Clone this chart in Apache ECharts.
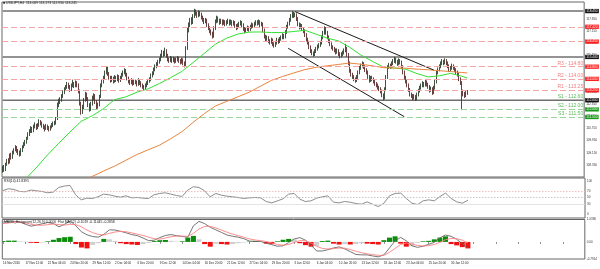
<!DOCTYPE html>
<html><head><meta charset="utf-8">
<script src="https://cdn.jsdelivr.net/npm/echarts@6/dist/echarts.min.js"></script>
<style>html,body{margin:0;padding:0;background:#fff}#c{width:600px;height:269px}</style>
</head><body><div id="c"></div>
<script>
const slotCount = 416;
const tickLabels = ["14 Nov 2016","17 Nov 12:00","22 Nov 04:00","24 Nov 20:00","29 Nov 12:00","2 Dec 04:00","6 Dec 20:00","9 Dec 12:00","14 Dec 04:00","16 Dec 20:00","21 Dec 12:00","27 Dec 04:00","29 Dec 20:00","3 Jan 12:00","6 Jan 04:00","10 Jan 20:00","13 Jan 12:00","18 Jan 12:00","23 Jan 04:00","25 Jan 20:00","30 Jan 12:00"];
const firstOpen = 108.00;
const closes = [
108.15,108.05,108.40,108.60,108.55,109.00,108.85,109.20,109.35,109.50,
109.30,109.20,109.05,109.30,109.55,109.70,109.85,110.10,110.35,110.55,
110.75,110.60,110.85,110.95,110.80,110.95,111.15,111.10,110.95,110.85,
110.75,110.90,110.80,110.70,110.85,110.95,111.05,111.10,111.35,112.30,
112.45,112.60,112.85,113.10,113.30,113.45,113.60,113.50,113.30,113.55,
113.70,113.55,113.75,113.60,113.20,112.40,111.85,112.10,112.60,113.00,
112.70,112.30,112.00,112.35,112.75,112.90,112.50,112.15,112.30,112.80,
113.55,113.80,114.05,114.40,114.70,114.35,114.10,113.90,114.05,113.85,
114.10,113.95,114.15,113.90,114.05,114.25,114.40,114.55,114.30,114.05,
113.85,113.75,113.90,113.70,113.85,113.80,113.65,113.90,113.75,113.60,
113.50,113.40,113.55,113.70,113.85,113.95,114.20,114.35,114.60,114.80,
114.95,115.10,115.25,115.50,115.75,115.60,115.85,115.55,115.30,115.20,
115.35,115.20,115.30,115.15,115.25,115.35,115.20,115.10,115.25,115.05,
114.90,116.00,117.20,117.50,117.85,117.70,118.10,118.45,118.30,118.15,
118.35,118.25,118.05,117.90,117.75,117.85,117.55,117.35,117.15,117.00,
116.80,117.30,117.75,118.00,117.85,117.70,117.80,117.65,117.75,117.60,
117.70,117.80,117.65,117.75,117.60,117.70,117.50,117.35,117.50,117.60,
117.70,117.55,117.30,117.15,117.25,117.35,117.25,117.40,117.55,117.50,
117.60,117.70,117.65,117.75,117.55,117.60,117.20,116.80,116.60,116.70,
116.50,116.40,116.55,116.30,116.20,116.35,116.55,116.45,116.60,116.70,
116.85,116.75,117.05,117.40,117.60,117.85,118.10,118.30,118.15,118.20,
117.95,117.60,117.40,117.50,117.30,117.15,116.90,116.60,116.40,116.10,
115.85,115.70,115.60,115.80,115.95,116.10,116.20,116.35,116.70,117.00,
117.30,117.05,116.75,116.50,116.30,116.10,116.00,115.90,115.75,115.85,
115.65,115.50,115.60,115.70,115.85,116.00,115.60,115.05,114.55,114.30,
114.15,114.00,113.90,114.10,114.40,114.70,114.85,115.00,114.80,114.60,
114.45,114.15,113.90,114.05,114.00,113.85,113.70,113.60,113.45,113.35,
113.20,112.95,112.75,113.30,114.10,114.75,114.90,114.80,115.00,115.15,
115.30,115.15,115.00,115.20,115.10,114.80,114.45,114.10,113.85,113.60,
113.30,113.00,112.90,112.75,112.85,112.70,112.95,113.20,113.40,113.55,
113.70,113.60,113.80,113.65,113.50,113.25,113.35,113.10,113.40,113.80,
114.40,114.60,114.80,115.00,115.15,115.05,115.20,115.05,114.85,114.60,
114.70,114.85,114.75,114.60,114.45,114.30,114.00,113.75,113.10,113.05,
112.90,113.07,113.24];
const highs = [
108.30,108.35,108.50,108.75,108.80,109.10,109.15,109.30,109.45,109.65,
109.60,109.40,109.30,109.45,109.65,109.85,110.00,110.20,110.50,110.70,
110.90,110.85,111.00,111.15,111.05,111.10,111.35,111.30,111.20,111.05,
110.95,111.05,111.00,110.90,110.95,111.10,111.20,111.25,111.50,112.45,
112.70,112.80,113.00,113.25,113.45,113.60,113.80,113.75,113.60,113.70,
113.95,113.80,113.90,113.85,113.70,113.30,112.50,112.30,112.75,113.15,
113.10,112.80,112.40,112.50,112.90,113.05,113.00,112.60,112.45,112.95,
113.70,113.95,114.20,114.55,114.85,114.80,114.45,114.20,114.20,114.15,
114.25,114.20,114.30,114.25,114.20,114.40,114.55,114.70,114.65,114.40,
114.15,113.95,114.05,114.00,114.00,113.95,113.90,114.05,114.00,113.85,
113.70,113.60,113.70,113.85,114.00,114.10,114.35,114.50,114.75,114.95,
115.10,115.25,115.40,115.65,115.90,115.85,116.05,115.95,115.65,115.40,
115.50,115.45,115.45,115.40,115.40,115.50,115.45,115.30,115.40,115.35,
115.15,116.15,117.35,117.70,118.00,118.05,118.25,118.60,118.55,118.40,
118.50,118.45,118.35,118.15,118.00,118.00,117.95,117.65,117.45,117.25,
117.10,117.45,117.90,118.15,118.10,117.95,117.95,117.90,117.90,117.85,
117.85,117.95,117.90,117.90,117.85,117.85,117.80,117.60,117.65,117.75,
117.85,117.80,117.65,117.40,117.40,117.50,117.45,117.55,117.70,117.65,
117.75,117.85,117.85,117.90,117.85,117.75,117.70,117.30,116.90,116.85,
116.80,116.60,116.70,116.65,116.40,116.50,116.70,116.65,116.75,116.85,
117.00,116.95,117.20,117.55,117.75,118.00,118.25,118.45,118.40,118.35,
118.30,118.05,117.70,117.65,117.60,117.40,117.25,117.00,116.70,116.50,
116.20,115.95,115.80,115.95,116.10,116.25,116.35,116.50,116.85,117.15,
117.45,117.40,117.15,116.85,116.60,116.40,116.20,116.10,116.00,116.00,
115.95,115.75,115.75,115.85,116.00,116.30,116.10,115.70,115.15,114.65,
114.40,114.25,114.10,114.25,114.55,114.85,115.00,115.15,115.10,114.90,
114.70,114.55,114.25,114.20,114.20,114.10,113.95,113.80,113.70,113.55,
113.45,113.30,113.05,113.45,114.25,114.90,115.05,115.00,115.15,115.30,
115.45,115.40,115.25,115.35,115.30,115.20,114.90,114.55,114.20,113.95,
113.70,113.40,113.10,113.00,113.00,112.95,113.10,113.35,113.55,113.70,
113.85,113.80,113.95,113.90,113.75,113.60,113.50,113.45,113.55,113.95,
114.55,114.75,114.95,115.15,115.30,115.25,115.35,115.30,115.15,114.95,
114.85,115.00,114.95,114.85,114.70,114.55,114.40,114.10,113.85,113.30,
113.15,113.20,113.27];
const lows = [
107.85,107.90,107.95,108.30,108.40,108.45,108.70,108.75,109.05,109.25,
109.15,109.00,108.90,108.95,109.20,109.45,109.60,109.75,110.00,110.25,
110.45,110.45,110.50,110.75,110.65,110.70,110.85,110.95,110.80,110.70,
110.55,110.65,110.65,110.55,110.60,110.75,110.85,110.95,111.00,111.30,
112.15,112.35,112.50,112.75,113.00,113.20,113.35,113.35,113.15,113.20,
113.45,113.40,113.45,113.45,113.05,112.25,111.65,111.70,112.00,112.50,
112.55,112.15,111.85,111.90,112.25,112.60,112.35,112.00,112.05,112.20,
112.75,113.45,113.70,113.95,114.30,114.20,113.95,113.75,113.80,113.70,
113.75,113.80,113.85,113.75,113.80,113.95,114.15,114.30,114.15,113.90,
113.70,113.60,113.65,113.55,113.60,113.65,113.50,113.55,113.60,113.45,
113.35,113.25,113.30,113.45,113.60,113.75,113.85,114.10,114.25,114.50,
114.70,114.85,115.00,115.15,115.40,115.45,115.50,115.40,115.15,115.05,
115.10,115.05,115.10,115.00,115.05,115.15,115.05,114.95,115.00,114.90,
114.75,114.85,115.90,117.05,117.40,117.55,117.60,118.00,118.15,118.00,
118.05,118.10,117.90,117.75,117.60,117.65,117.40,117.20,117.00,116.85,
116.65,116.70,117.20,117.65,117.70,117.55,117.60,117.50,117.55,117.45,
117.50,117.60,117.50,117.55,117.45,117.50,117.35,117.20,117.25,117.40,
117.50,117.40,117.15,117.00,117.05,117.15,117.10,117.15,117.30,117.35,
117.40,117.50,117.50,117.55,117.40,117.45,117.05,116.65,116.45,116.50,
116.35,116.25,116.30,116.15,116.05,116.10,116.25,116.30,116.35,116.50,
116.60,116.60,116.65,116.95,117.30,117.50,117.75,118.00,118.00,118.05,
117.80,117.45,117.25,117.30,117.15,117.00,116.75,116.45,116.25,115.95,
115.70,115.55,115.45,115.50,115.70,115.85,116.00,116.10,116.25,116.60,
116.90,116.90,116.60,116.35,116.15,115.95,115.85,115.75,115.60,115.65,
115.50,115.35,115.40,115.50,115.60,115.75,115.45,114.90,114.40,114.15,
114.00,113.85,113.75,113.80,114.00,114.30,114.60,114.75,114.65,114.45,
114.30,114.00,113.75,113.80,113.85,113.70,113.55,113.45,113.30,113.20,
113.05,112.80,112.60,112.65,113.20,114.00,114.65,114.65,114.70,114.90,
115.05,115.00,114.85,114.90,114.95,114.65,114.30,113.95,113.70,113.45,
113.15,112.85,112.75,112.60,112.65,112.55,112.60,112.85,113.10,113.30,
113.45,113.45,113.50,113.50,113.35,113.10,113.15,112.95,113.00,113.30,
113.70,114.30,114.50,114.70,114.90,114.90,114.95,114.90,114.70,114.45,
114.50,114.60,114.60,114.45,114.30,114.15,113.85,113.60,111.95,112.85,
112.75,112.80,112.95];
const maFast = [[16,107.40],[24,108.17],[32,109.01],[40,109.77],[48,110.51],[56,111.21],[64,111.58],[72,112.04],[80,112.64],[88,112.82],[96,113.13],[104,113.35],[112,113.70],[120,114.08],[128,114.49],[136,115.07],[144,115.67],[152,116.28],[160,116.67],[168,116.94],[176,117.07],[184,117.08],[192,117.04],[200,117.04],[208,117.11],[216,117.19],[224,116.93],[232,116.67],[240,116.49],[248,116.07],[256,115.56],[264,115.16],[272,114.78],[280,114.71],[288,114.64],[296,114.35],[304,114.13],[312,114.20],[320,114.36],[328,114.18],[332,114.05]];
const maSlow = [[60,107.42],[64,107.60],[72,107.95],[80,108.28],[88,108.66],[96,109.04],[104,109.35],[112,109.65],[120,110.07],[128,110.53],[136,111.14],[144,111.72],[152,112.22],[160,112.52],[168,112.82],[176,113.12],[184,113.51],[192,113.90],[200,114.16],[208,114.39],[216,114.61],[224,114.76],[232,114.86],[240,114.95],[248,115.04],[256,114.96],[264,114.86],[272,114.74],[280,114.71],[288,114.70],[296,114.64],[304,114.60],[312,114.54],[320,114.48],[328,114.42],[332,114.39]];
const sampleStep = 4;
const rsiVals = [70,76,74,68,67,72,70,68,64,66,80,84,86,58,43,48,47,52,60,58,54,51,55,49,50,48,47,58,62,64,60,56,53,72,82,80,70,52,62,57,54,52,50,47,49,50,49,38,34,40,46,60,62,45,38,40,48,52,55,36,34,38,36,32,30,37,30,23,33,55,62,63,47,33,29,40,43,40,53,63,47,37,33,42];
const macdVals = [0.92,0.96,0.95,0.92,0.82,0.73,0.78,0.84,0.90,0.85,0.70,0.82,0.97,0.75,0.47,0.33,0.25,0.22,0.35,0.56,0.55,0.49,0.42,0.34,0.29,0.18,0.06,0.08,0.20,0.30,0.34,0.29,0.25,0.22,0.75,0.95,0.85,0.68,0.56,0.44,0.32,0.26,0.22,0.15,0.04,0.02,0.02,-0.06,-0.13,-0.20,-0.18,-0.03,0.14,0.20,0.08,-0.15,-0.42,-0.42,-0.36,-0.28,-0.23,-0.32,-0.45,-0.58,-0.60,-0.60,-0.65,-0.69,-0.60,-0.28,0.05,0.21,0.05,-0.18,-0.25,-0.20,-0.11,-0.02,0.19,0.32,0.26,0.12,-0.08,-0.27];
const signalVals = [0.85,0.88,0.91,0.92,0.88,0.82,0.78,0.77,0.80,0.83,0.80,0.78,0.82,0.80,0.70,0.55,0.43,0.35,0.32,0.40,0.46,0.49,0.47,0.42,0.36,0.30,0.22,0.15,0.13,0.18,0.24,0.27,0.27,0.26,0.40,0.60,0.72,0.72,0.65,0.55,0.45,0.36,0.29,0.22,0.14,0.09,0.06,0.02,-0.05,-0.12,-0.15,-0.12,-0.02,0.06,0.06,-0.05,-0.20,-0.30,-0.33,-0.31,-0.28,-0.29,-0.35,-0.43,-0.50,-0.55,-0.59,-0.62,-0.62,-0.48,-0.30,-0.12,-0.05,-0.10,-0.16,-0.19,-0.17,-0.12,-0.02,0.10,0.16,0.15,0.08,-0.05];
const histVals = [0.04,0.06,0.06,0.03,0.02,-0.04,-0.05,-0.03,0.03,0.10,0.18,0.22,0.24,-0.10,-0.26,-0.30,-0.14,-0.06,0.14,0.12,0.05,-0.06,-0.10,-0.12,-0.14,-0.10,-0.05,0.04,0.08,0.09,0.05,0.02,0.03,0.20,0.28,0.12,-0.10,-0.22,-0.08,-0.10,-0.12,-0.10,-0.06,-0.03,0.02,0.05,0.03,-0.08,-0.10,0.03,0.10,0.14,0.12,-0.06,-0.15,-0.22,-0.18,0.04,0.06,-0.08,-0.12,-0.10,-0.12,-0.10,-0.06,-0.08,-0.10,-0.12,0.08,0.20,0.26,-0.08,-0.22,-0.18,-0.04,0.03,0.05,0.12,0.20,0.26,-0.10,-0.16,-0.24,-0.30];
const resistLevels = [114.80, 114.00, 113.25];
const resistNames = ["R3", "R2", "R1"];
const supportLevels = [112.60, 112.00, 111.50];
const supportNames = ["S1", "S2", "S3"];
const extraRedLevels = [117.42, 116.45];
const solidLevels = [118.45, 115.44, 112.60];
const channelUpper = [[209, 118.41], [308, 114.58]];
const channelLower = [[204, 116.01], [287, 111.52]];
const priceTicks = [108.35,109.15,109.95,110.75,111.55,112.35,113.15,113.95,114.75,115.55,116.35,117.15,117.95];
const rsiTicks = [0, 30, 50, 70, 100];
const macdTicks = [-0.7914, 0, 1.0396];
const titleText = "\u25A0 USDJPY,H4  113.069 113.273 112.950 113.241";
const rsiText = "RSI(14) 41.8395";
const macdText = "MACD_Histogram(12,26,9) 0.0000  Flat MA(12) -0.1019 -0.11445 -0.2858";

const slots = Array.from({length: slotCount}, (_, i) => String(i));
const ohlc = closes.map((c, i) => [i === 0 ? firstOpen : closes[i - 1], c, lows[i], highs[i]]);
const sampled = arr => arr.map((v, k) => [k * sampleStep, v]);
const histData = histVals.map((v, k) => {
  const prev = k > 0 ? histVals[k - 1] : 0;
  let col;
  if (v >= 0) col = v >= prev ? '#0c8c0c' : '#cfcfcf';
  else col = v <= prev ? '#f01010' : '#cfcfcf';
  return {value: [k * sampleStep, v], itemStyle: {color: col}};
});

const F = 'Liberation Sans, Arial, sans-serif';
function lineItem(v, color, type, width, text, textColor) {
  return {yAxis: v, lineStyle: {color: color, type: type, width: width},
    label: text ? {show: true, position: 'insideEndTop', formatter: text, color: textColor, fontSize: 5, fontFamily: F, distance: [1, 0.8]} : {show: false}};
}
function boxItem(v, bg) {
  return {yAxis: v, lineStyle: {color: 'rgba(0,0,0,0)', width: 0.1},
    label: {show: true, position: 'end', formatter: v.toFixed(3), backgroundColor: bg, color: '#fff', fontSize: 3.2, fontFamily: F, padding: [0.8, 1.2, 0.5, 1.2], distance: 1}};
}
const ml = [];
extraRedLevels.forEach(v => { ml.push(lineItem(v, '#f6a5a5', [6, 3], 1, null)); ml.push(boxItem(v, '#ff1f1f')); });
solidLevels.forEach(v => { ml.push(boxItem(v, '#111')); });
resistLevels.forEach((v, k) => { ml.push(lineItem(v, '#f6a5a5', [6, 3], 1, resistNames[k] + ' - ' + v.toFixed(2), '#f08080')); ml.push(boxItem(v, '#ff1f1f')); });
supportLevels.forEach((v, k) => {
  if (k === 0) { ml.push(lineItem(v, 'rgba(0,0,0,0)', 'solid', 0.1, supportNames[k] + ' - ' + v.toFixed(2), '#5cb85c')); }
  else { ml.push(lineItem(v, '#9ad69a', [6, 3], 1, supportNames[k] + ' - ' + v.toFixed(2), '#5cb85c')); ml.push(boxItem(v, '#1a9a1a')); }
});
const solidSeries = solidLevels.map(v => ({type: 'line', xAxisIndex: 0, yAxisIndex: 0, silent: true, showSymbol: false, z: 1,
  data: [[0, v], [slotCount - 1, v]], lineStyle: {color: '#6f6f6f', width: 1.4}}));

const axisCommon = {type: 'category', data: slots, boundaryGap: true, axisLine: {show: false}, axisTick: {show: false}, axisLabel: {show: false}, splitLine: {show: false}};
const yLab = {fontSize: 3, color: '#333', fontFamily: F, margin: 2};
const trend = d => ({type: 'line', xAxisIndex: 0, yAxisIndex: 0, data: d, showSymbol: false, silent: true, lineStyle: {color: '#1a1a1a', width: 1}, z: 4});
const chart = echarts.init(document.getElementById('c'), null, {renderer: 'canvas'});
chart.setOption({
  animation: false,
  backgroundColor: '#fff',
  title: [
    {text: titleText, left: 3, top: 1.5, padding: 0, textStyle: {fontSize: 3.4, color: '#222', fontWeight: 'normal', fontFamily: F}},
    {text: rsiText, left: 4, top: 180, padding: 0, textStyle: {fontSize: 3.4, color: '#222', fontWeight: 'normal', fontFamily: F}},
    {text: macdText, left: 4, top: 220.5, padding: 0, textStyle: {fontSize: 3.4, color: '#222', fontWeight: 'normal', fontFamily: F}}
  ],
  grid: [
    {left: 2, right: 15, top: 2, height: 175, show: true, borderColor: '#666', borderWidth: 1},
    {left: 2, right: 15, top: 178, height: 40, show: true, borderColor: '#666', borderWidth: 1},
    {left: 2, right: 15, top: 219.5, height: 39.5, show: true, borderColor: '#666', borderWidth: 1}
  ],
  xAxis: [
    Object.assign({gridIndex: 0}, axisCommon),
    Object.assign({gridIndex: 1}, axisCommon),
    Object.assign({}, axisCommon, {gridIndex: 2,
      axisTick: {show: true, interval: 15, length: 2, alignWithLabel: true, lineStyle: {color: '#444', width: 0.6}},
      axisLabel: {show: true, interval: 15, formatter: (val, idx) => tickLabels[idx / 16] || '', align: 'left', fontSize: 3, color: '#222', fontFamily: F, margin: 3}})
  ],
  yAxis: [
    {gridIndex: 0, type: 'value', position: 'right', min: 107.563, max: 119.045, splitLine: {show: false}, axisLine: {show: false}, axisTick: {show: false},
      axisLabel: Object.assign({customValues: priceTicks, formatter: v => v.toFixed(3)}, yLab)},
    {gridIndex: 1, type: 'value', position: 'right', min: -11, max: 108, splitLine: {show: false}, axisLine: {show: false}, axisTick: {show: false},
      axisLabel: Object.assign({customValues: rsiTicks, formatter: v => String(v)}, yLab)},
    {gridIndex: 2, type: 'value', position: 'right', min: -0.7914, max: 1.0396, splitLine: {show: false}, axisLine: {show: false}, axisTick: {show: false},
      axisLabel: Object.assign({customValues: macdTicks, formatter: v => v === 0 ? '0.00' : v.toFixed(4)}, yLab)}
  ],
  series: [
    {type: 'candlestick', xAxisIndex: 0, yAxisIndex: 0, data: ohlc, barWidth: 1.3,
      itemStyle: {color: '#2a7d2a', color0: '#c02a2a', borderColor: '#2d402d', borderColor0: '#5a2a2a', borderWidth: 0.9}},
    {type: 'line', xAxisIndex: 0, yAxisIndex: 0, data: maFast, showSymbol: false, lineStyle: {color: '#33e033', width: 1}, z: 3},
    {type: 'line', xAxisIndex: 0, yAxisIndex: 0, data: maSlow, showSymbol: false, lineStyle: {color: '#e8843e', width: 1}, z: 3,
      markLine: {silent: true, symbol: ['none', 'none'], animation: false, data: ml}},
    trend(channelUpper),
    trend(channelLower),
    ...solidSeries,
    {type: 'line', xAxisIndex: 1, yAxisIndex: 1, data: sampled(rsiVals), showSymbol: false, lineStyle: {color: '#808080', width: 0.9},
      markLine: {silent: true, symbol: ['none', 'none'], label: {show: false}, data: [
        {yAxis: 70, lineStyle: {color: '#f0b0b0', type: [1.5, 1.5], width: 0.8}},
        {yAxis: 50, lineStyle: {color: '#bbbbbb', type: [1.5, 1.5], width: 0.8}},
        {yAxis: 30, lineStyle: {color: '#dddddd', type: 'solid', width: 0.8}}]}},
    {type: 'bar', xAxisIndex: 2, yAxisIndex: 2, data: histData, barWidth: 5},
    {type: 'line', xAxisIndex: 2, yAxisIndex: 2, data: sampled(macdVals), showSymbol: false, lineStyle: {color: '#666', width: 0.9}, z: 3},
    {type: 'line', xAxisIndex: 2, yAxisIndex: 2, data: sampled(signalVals), showSymbol: false, lineStyle: {color: '#ff8080', width: 0.9}, z: 3}
  ]
});
</script></body></html>
